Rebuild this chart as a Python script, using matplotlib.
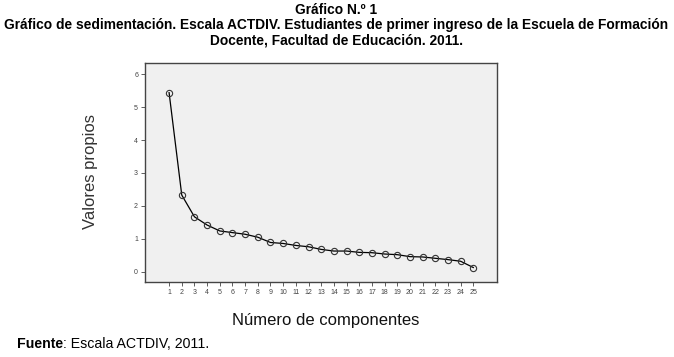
"""Scree plot (grafico de sedimentacion) for the ACTDIV scale."""

import matplotlib
import matplotlib.pyplot as plt
from matplotlib.text import Annotation

matplotlib.use('Agg')

components = list(range(1, 26))
eigenvalues = [5.44, 2.33, 1.67, 1.42, 1.24, 1.19, 1.14, 1.05, 0.89, 0.86,
               0.80, 0.76, 0.68, 0.63, 0.63, 0.59, 0.58, 0.54, 0.52, 0.46,
               0.45, 0.41, 0.37, 0.32, 0.13]
y_ticks = [0, 1, 2, 3, 4, 5, 6]

title_lines = [
    'Gráfico N.º 1',
    'Gráfico de sedimentación. Escala ACTDIV. Estudiantes de primer ingreso de la Escuela de Formación',
    'Docente, Facultad de Educación. 2011.',
]

W, H = 674, 357
plt.rcParams['font.family'] = ['Liberation Sans', 'DejaVu Sans']

fig = plt.figure(figsize=(W / 100, H / 100), dpi=100)
left, right, top, bottom = 145, 497, 63, 282
ax = fig.add_axes([left / W, 1 - bottom / H, (right - left) / W, (bottom - top) / H])
ax.set_facecolor('#f0f0f0')

ax.plot(components, eigenvalues, color='black', lw=0.9,
        marker='o', ms=4.5, mfc='none', mec='#333333', mew=0.8)

ax.set_xlim(-0.9, 26.87)
ax.set_ylim(-0.31, 6.34)
ax.set_xticks(components)
ax.set_yticks(y_ticks)
ax.tick_params(labelsize=5, colors='#444444', length=3, width=0.6, pad=2)
for s in ax.spines.values():
    s.set_color('#444444')
    s.set_linewidth(1)

fig.text(90 / W, 1 - 171 / H, 'Valores propios', rotation=90,
         ha='center', va='center', fontsize=12, color='#333333')
fig.text(326 / W, 1 - 320 / H, 'Número de componentes',
         ha='center', va='center', fontsize=12, color='#111111')

for i, line in enumerate(title_lines):
    fig.text(336 / W, 1 - (9.5 + 15.5 * i) / H, line, ha='center', va='center',
             fontsize=9.9, fontweight='bold')

# source note: bold "Fuente" followed by regular text
src = fig.text(17 / W, 1 - 344 / H, 'Fuente', ha='left', va='center',
               fontsize=10.2, fontweight='bold')
fig.add_artist(Annotation(': Escala ACTDIV, 2011.', xy=(1, 0.5), xycoords=src,
                          ha='left', va='center', fontsize=10.2))

fig.savefig('out.png', dpi=100)
plt.close(fig)
